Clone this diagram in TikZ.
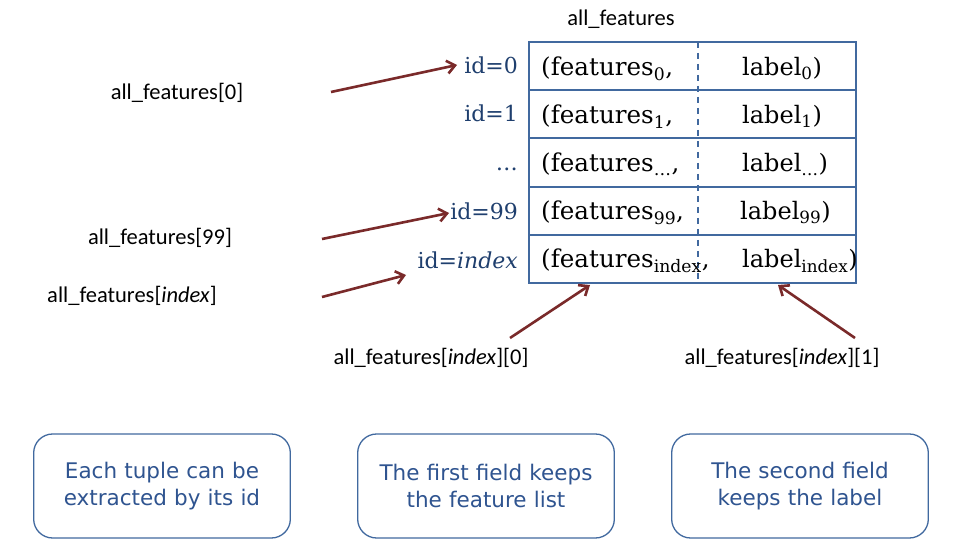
\documentclass[tikz,border=0pt]{standalone}
\usepackage{fontspec}
\setmainfont{DejaVu Serif}
\newfontfamily\calfont{Carlito}
\newfontfamily\verfont{DejaVu Sans}
\usetikzlibrary{arrows.meta}
\definecolor{tblue}{HTML}{41699F}
\definecolor{idblue}{HTML}{1F3F6E}
\definecolor{boxtext}{HTML}{2F5490}
\definecolor{arr}{HTML}{7A2A2A}
\begin{document}
\begin{tikzpicture}[x=1pt,y=-1pt,
 lbl/.style={font=\calfont\fontsize{22.5}{26}\selectfont, inner sep=0pt},
 idl/.style={font=\fontsize{22}{26}\selectfont, text=idblue, inner sep=0pt, anchor=base east},
 cell/.style={font=\fontsize{24}{28}\selectfont, inner sep=0pt, anchor=base west},
 lcell/.style={cell, font=\fontsize{24.6}{28}\selectfont},
 rowbox/.style={draw=tblue, line width=2pt, minimum width=327pt, minimum height=48.2pt, inner sep=0pt},
 divider/.style={draw=tblue, line width=2pt, dash pattern=on 6pt off 5pt},
 note/.style={draw=tblue, line width=1.3pt, rounded corners=19pt, minimum width=254pt, minimum height=104pt, text width=250pt, align=center, font=\verfont\fontsize{21.5}{27}\selectfont, text=boxtext},
 conn/.style={draw=arr, line width=2.6pt, -{Straight Barb[length=8pt,width=13pt]}}]
\fill[white] (0,0) rectangle (959,553);
\useasboundingbox (0,0) rectangle (959,553);

% table rows
\node[rowbox] (r0) at (692.5,66.1) {};
\node[rowbox] (r1) at (692.5,114.3) {};
\node[rowbox] (r2) at (692.5,162.5) {};
\node[rowbox] (r3) at (692.5,210.7) {};
\node[rowbox] (r4) at (692.5,258.9) {};
\coordinate (dtop) at (698,42);
\coordinate (dbot) at (698,283);
\draw[divider] (dtop) -- (dbot);

% cell texts
\node[lcell] (f0) at (541,76) {(features\textsubscript{0},};
\node[cell] (l0) at (742,76) {label\textsubscript{0})};
\node[lcell] (f1) at (541,124) {(features\textsubscript{1},};
\node[cell] (l1) at (742,124) {label\textsubscript{1})};
\node[lcell] (f2) at (541,172) {(features\textsubscript{…},};
\node[cell] (l2) at (742,172) {label\textsubscript{…})};
\node[lcell] (f3) at (541,220) {(features\textsubscript{99},};
\node[cell] (l3) at (740,220) {label\textsubscript{99})};
\node[lcell] (f4) at (541,268) {(features\textsubscript{index},};
\node[cell] (l4) at (742,268) {label\textsubscript{index})};

% id labels
\node[idl] (id0) at (518,74) {id=0};
\node[idl] (id1) at (518,122) {id=1};
\node[idl] (id2) at (518,171) {…};
\node[idl] (id3) at (518,220) {id=99};
\node[idl] (id4) at (518,269) {id=\textit{index}};

% labels
\node[lbl] (title) at (621,19) {all\_features};
\node[lbl] (a0) at (177,93) {all\_features[0]};
\node[lbl] (a99) at (160,238) {all\_features[99]};
\node[lbl] (aidx) at (132,296) {all\_features[\textit{index}]};
\node[lbl] (ai0) at (431,358) {all\_features[\textit{index}][0]};
\node[lbl] (ai1) at (782,358) {all\_features[\textit{index}][1]};

% arrows
\coordinate (s1) at (331,92);  \coordinate (e1) at (457,65);
\coordinate (s2) at (322,239); \coordinate (e2) at (449,213);
\coordinate (s3) at (322,297); \coordinate (e3) at (406,275);
\coordinate (s4) at (510,338); \coordinate (e4) at (590,285);
\coordinate (s5) at (855,338); \coordinate (e5) at (778,285);
\draw[conn] (s1) -- (e1);
\draw[conn] (s2) -- (e2);
\draw[conn] (s3) -- (e3);
\draw[conn] (s4) -- (e4);
\draw[conn] (s5) -- (e5);

% notes
\node[note] (n1) at (162,486) {Each tuple can be\\extracted by its id};
\node[note] (n2) at (486,486) {The first field keeps\\the feature list};
\node[note] (n3) at (800,486) {The second field\\keeps the label};
\end{tikzpicture}
\end{document}
